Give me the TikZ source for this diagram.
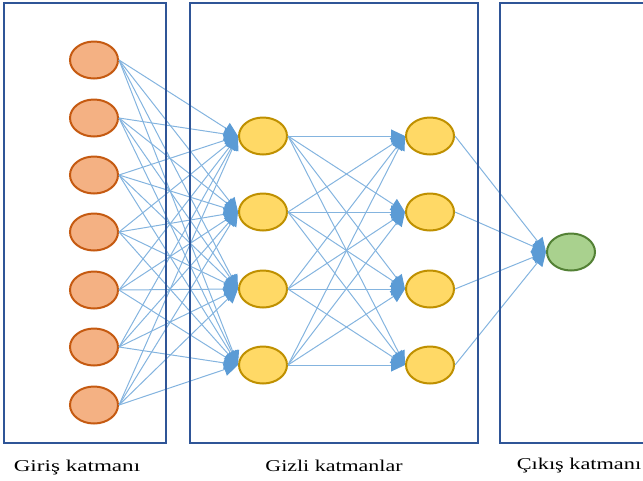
\documentclass[tikz,border=0pt]{standalone}
\usepackage{fontspec}
\setmainfont{Liberation Serif}
\usetikzlibrary{arrows.meta,shapes.geometric}
\definecolor{boxBlue}{HTML}{2F5597}
\definecolor{inFill}{HTML}{F4B183}
\definecolor{inLine}{HTML}{C55A11}
\definecolor{hidFill}{HTML}{FFD966}
\definecolor{hidLine}{HTML}{BF9000}
\definecolor{outFill}{HTML}{A9D18E}
\definecolor{outLine}{HTML}{538135}
\definecolor{linkBlue}{HTML}{5B9BD5}
\begin{document}
\begin{tikzpicture}[x=1pt,y=-1pt,
  neuron/.style={ellipse,minimum width=48pt,minimum height=37pt,line width=2pt,inner sep=0pt},
  innode/.style={neuron,fill=inFill,draw=inLine},
  hidnode/.style={neuron,fill=hidFill,draw=hidLine},
  outnode/.style={neuron,fill=outFill,draw=outLine},
  conn/.style={draw=linkBlue!75,line width=1pt,-{Triangle[length=14pt,width=13pt,color=linkBlue,fill=linkBlue]}},
  layerbox/.style={draw=boxBlue,line width=2pt},
  caption/.style={anchor=base,inner sep=0pt,font=\fontsize{16.5}{16.5}\selectfont}]
\clip (0,0) rectangle (643,480);
% input layer
\foreach \i/\y in {1/60,2/118,3/175,4/232,5/290,6/347,7/405}
  \node[innode] (i\i) at (94,\y) {};
% hidden layers
\foreach \i/\y in {1/136,2/212,3/289,4/365}{
  \node[hidnode] (h\i) at (263,\y) {};
  \node[hidnode] (g\i) at (430,\y) {};
}
% output
\node[outnode] (o) at (571,252) {};
% connections
\foreach \a in {1,...,7}
  \foreach \b in {1,...,4}
    \draw[conn] (i\a.east) -- (h\b.west);
\foreach \a in {1,...,4}
  \foreach \b in {1,...,4}
    \draw[conn] (h\a.east) -- (g\b.west);
\foreach \a in {1,...,4}
  \draw[conn] (g\a.east) -- (o.west);
% boxes
\draw[layerbox] (4,3) rectangle (166,443);
\draw[layerbox] (190,3) rectangle (478,443);
\draw[layerbox] (500,3) rectangle (660,443);
% captions
\node[caption] (c1) at (77,471) {\scalebox{1.4}[1]{Giriş katmanı}};
\node[caption] (c2) at (334,471) {\scalebox{1.33}[1]{Gizli katmanlar}};
\node[caption] (c3) at (579,469) {\scalebox{1.35}[1]{Çıkış katmanı}};
\end{tikzpicture}
\end{document}
